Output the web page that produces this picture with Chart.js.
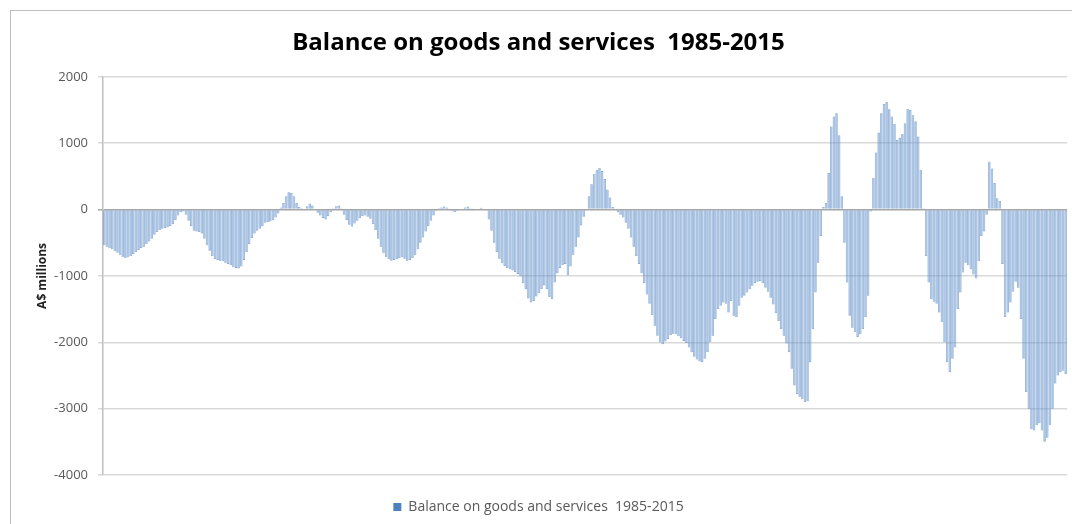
<!DOCTYPE html>
<html>
<head>
<meta charset="utf-8">
<script src="https://cdn.jsdelivr.net/npm/chart.js@4.4.1/dist/chart.umd.min.js"></script>
<style>
    html, body { margin: 0; padding: 0; background: #fff; }
    #wrap { position: relative; width: 1072px; height: 524px; overflow: hidden; }
    #frame { position: absolute; left: 10px; top: 10px; width: 1100px; height: 600px; border: 1px solid #bfbfbf; }
    canvas { position: absolute; left: 0; top: 0; }
</style>
</head>
<body>
<div id="wrap">
    <div id="frame"></div>
    <canvas id="grafica" width="1072" height="524"></canvas>
</div>
<script>

// monthly balance, A$ millions, Jan 1985 - Jun 2015
const years = [1985, 1986, 1987, 1988, 1989, 1990, 1991, 1992, 1993, 1994,
               1995, 1996, 1997, 1998, 1999, 2000, 2001, 2002, 2003, 2004,
               2005, 2006, 2007, 2008, 2009, 2010, 2011, 2012, 2013, 2014, 2015];

const months = ["Jan", "Feb", "Mar", "Apr", "May", "Jun",
                "Jul", "Aug", "Sep", "Oct", "Nov", "Dec"];

const balance = [
    -540, -560, -585, -600, -630, -650, -680, -710, -730, -720, -700, -670,          // 1985
    -640, -610, -580, -560, -520, -480, -440, -380, -340, -310, -290, -280,          // 1986
    -270, -250, -220, -160, -90, -40, -30, -80, -170, -250, -320, -330,              // 1987
    -340, -360, -440, -540, -620, -700, -745, -760, -770, -780, -800, -820,          // 1988
    -840, -870, -880, -890, -860, -760, -640, -520, -430, -360, -320, -290,          // 1989
    -250, -200, -190, -180, -160, -120, -60, 30, 100, 200, 260, 250,                 // 1990
    200, 100, 40, 20, 10, 50, 90, 60, -10, -50, -90, -130,                           // 1991
    -150, -100, -40, 20, 50, 60, 20, -80, -160, -230, -260, -210,                    // 1992
    -170, -130, -100, -90, -110, -140, -220, -310, -440, -560, -660, -720,           // 1993
    -750, -770, -760, -745, -730, -720, -740, -770, -760, -730, -690, -600,          // 1994
    -500, -420, -330, -250, -170, -90, -20, 20, 30, 45, 30, 15,                      // 1995
    -20, -40, -20, -10, 10, 30, 45, 20, 5, 0, 10, 25,                                // 1996
    15, -10, -150, -320, -500, -640, -740, -810, -850, -880, -900, -920,             // 1997
    -940, -970, -1010, -1110, -1200, -1340, -1400, -1380, -1310, -1260, -1200, -1140, // 1998
    -1200, -1320, -1350, -1100, -960, -880, -840, -820, -990, -860, -680, -560,      // 1999
    -420, -240, -110, 10, 200, 380, 540, 600, 630, 580, 460, 300,                    // 2000
    180, 40, -10, -40, -80, -120, -200, -290, -420, -560, -700, -820,                // 2001
    -960, -1110, -1280, -1420, -1590, -1750, -1900, -2000, -2030, -1990, -1950, -1890, // 2002
    -1870, -1880, -1910, -1940, -1980, -2010, -2080, -2150, -2220, -2260, -2290, -2300, // 2003
    -2250, -2150, -2000, -1900, -1650, -1500, -1450, -1400, -1420, -1550, -1380, -1600, // 2004
    -1620, -1450, -1330, -1300, -1250, -1200, -1150, -1110, -1090, -1080, -1110, -1180, // 2005
    -1240, -1330, -1430, -1560, -1680, -1800, -1900, -2020, -2150, -2400, -2650, -2780, // 2006
    -2820, -2860, -2900, -2890, -2300, -1800, -1250, -800, -400, 40, 100, 550,       // 2007
    1250, 1400, 1450, 1120, 200, -500, -1100, -1600, -1780, -1850, -1920, -1880,     // 2008
    -1800, -1620, -1300, -30, 480, 860, 1160, 1450, 1590, 1620, 1510, 1400,          // 2009
    1290, 1050, 1080, 1140, 1300, 1520, 1500, 1420, 1330, 1100, 600, 20,             // 2010
    -700, -1100, -1350, -1390, -1420, -1550, -1700, -2000, -2300, -2450, -2250, -2080, // 2011
    -1500, -1250, -950, -800, -840, -900, -980, -1040, -780, -400, -330, -80,        // 2012
    720, 620, 400, 170, 130, -820, -1620, -1550, -1400, -1240, -1090, -1180,         // 2013
    -1650, -2250, -2750, -3000, -3310, -3330, -3250, -3220, -3330, -3500, -3440, -3250, // 2014
    -3000, -2620, -2500, -2450, -2430, -2480                                         // 2015
];

const yTicks = [2000, 1000, 0, -1000, -2000, -3000, -4000];

const titulo = "Balance on goods and services  1985-2015";

const etiquetas = [];
years.forEach(function (y) {
    months.forEach(function (m) {
        if (etiquetas.length < balance.length) {
            etiquetas.push(m + " " + y);
        }
    });
});

const fuente = "'Open Sans', 'Liberation Sans', sans-serif";

const ctx = document.getElementById("grafica").getContext("2d");

new Chart(ctx, {

    type: "bar",

    data: {
        labels: etiquetas,
        datasets: [
            {
                label: titulo,
                data: balance,
                backgroundColor: "rgba(120, 160, 212, 0.6)",
                borderColor: "rgba(79, 129, 189, 0.8)",
                borderWidth: 0.6,
                categoryPercentage: 1.0,
                barPercentage: 0.95
            }
        ]
    },

    options: {
        responsive: false,
        animation: false,
        layout: {
            padding: { left: 10, top: 10, right: 5, bottom: 0 }
        },
        plugins: {
            title: {
                display: true,
                text: titulo,
                color: "#000000",
                font: { family: fuente, size: 24, weight: "bold" },
                padding: { top: 19, bottom: 19 }
            },
            legend: {
                position: "bottom",
                labels: {
                    color: "#595959",
                    font: { family: fuente, size: 14 },
                    boxWidth: 8,
                    boxHeight: 8,
                    padding: 4,
                    generateLabels: function (chart) {
                        const items = Chart.defaults.plugins.legend.labels.generateLabels(chart);
                        items.forEach(function (it) {
                            it.fillStyle = "#4f81bd";
                            it.strokeStyle = "#4f81bd";
                            it.lineWidth = 0;
                        });
                        return items;
                    }
                }
            },
            tooltip: { enabled: false }
        },
        scales: {
            x: {
                display: true,
                ticks: { display: false },
                grid: { display: false, drawTicks: false },
                border: { display: false },
                afterFit: function (scale) {
                    scale.height = 21;
                }
            },
            y: {
                min: -4000,
                max: 2000,
                afterBuildTicks: function (scale) {
                    scale.ticks = yTicks.map(function (v) { return { value: v }; });
                },
                ticks: {
                    color: "#595959",
                    font: { family: fuente, size: 13 },
                    padding: 10,
                    callback: function (v) { return String(v); }
                },
                grid: {
                    color: function (c) {
                        return c.tick && c.tick.value === 0 ? "#a6a6a6" : "#d9d9d9";
                    },
                    lineWidth: 1.5,
                    tickLength: 5
                },
                border: { display: true, color: "#bfbfbf", width: 1.5 },
                title: {
                    display: true,
                    text: "A$ millions",
                    color: "#222222",
                    font: { family: fuente, size: 12, weight: "bold" },
                    padding: { top: 25, bottom: 0 }
                },
                afterFit: function (scale) {
                    scale.width = 93;
                }
            }
        }
    }
});
</script>
</body>
</html>
